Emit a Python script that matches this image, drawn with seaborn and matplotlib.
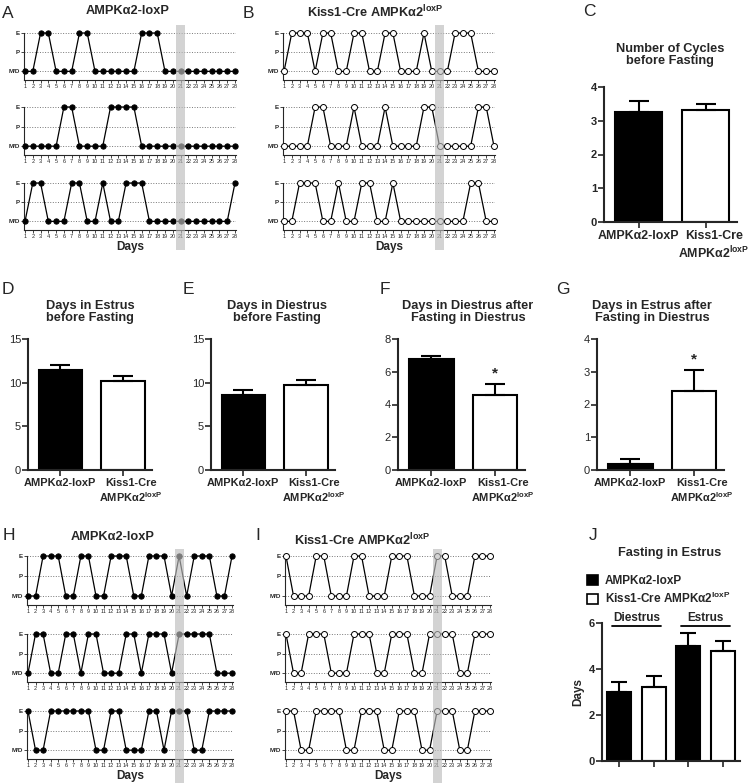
import matplotlib
matplotlib.use('Agg')
import matplotlib.pyplot as plt
from matplotlib.patches import Patch
from matplotlib.transforms import ScaledTranslation
import pandas as pd
import seaborn as sns

sns.set_style('ticks')
plt.rcParams['font.family'] = ['Liberation Sans', 'DejaVu Sans']
plt.rcParams['mathtext.fontset'] = 'custom'
plt.rcParams['mathtext.rm'] = 'Liberation Sans:bold'
plt.rcParams['mathtext.bf'] = 'Liberation Sans:bold'
plt.rcParams['mathtext.it'] = 'Liberation Sans:bold'

# ---- data ----
DAYS = list(range(1, 29))
STAGES = ['M/D', 'P', 'E']          # 0 = M/D, 1 = P, 2 = E
FAST_DAY = 21

# fasting in diestrus (A, B)
A_ROWS = [
    [0,0,2,2,0,0,0,2,2,0,0,0,0,0,0,2,2,2,0,0,0,0,0,0,0,0,0,0],
    [0,0,0,0,0,2,2,0,0,0,0,2,2,2,2,0,0,0,0,0,0,0,0,0,0,0,0,0],
    [0,2,2,0,0,0,2,2,0,0,2,0,0,2,2,2,0,0,0,0,0,0,0,0,0,0,0,2],
]
B_ROWS = [
    [0,2,2,2,0,2,2,0,0,2,2,0,0,2,2,0,0,0,2,0,0,0,2,2,2,0,0,0],
    [0,0,0,0,2,2,0,0,0,2,0,0,0,2,0,0,0,0,2,2,0,0,0,0,0,2,2,0],
    [0,0,2,2,2,0,0,2,0,0,2,2,0,0,2,0,0,0,0,0,0,0,0,0,2,2,0,0],
]
# fasting in estrus (H, I)
H_ROWS = [
    [0,0,2,2,2,0,0,2,2,0,0,2,2,2,0,0,2,2,2,0,2,0,2,2,2,0,0,2],
    [0,2,2,0,0,2,2,0,2,2,0,0,0,2,2,0,2,2,2,0,2,2,2,2,2,0,0,0],
    [2,0,0,2,2,2,2,2,2,0,0,2,2,0,0,0,2,2,0,2,2,2,0,0,2,2,2,2],
]
I_ROWS = [
    [2,0,0,0,2,2,0,0,0,2,2,0,0,0,2,2,2,0,0,0,2,2,0,0,0,2,2,2],
    [2,0,0,2,2,2,0,0,0,2,2,2,0,0,2,2,2,0,0,2,2,2,2,0,0,2,2,2],
    [2,2,0,0,2,2,2,2,0,0,2,2,2,0,0,2,2,2,0,0,2,2,2,0,0,2,2,2],
]

WT = 'AMPKα2-loxP'
KO = 'Kiss1-Cre AMPKα2$^{\\mathbf{loxP}}$'
WT_TICK = 'AMPKα2-loxP'
KO_TICK = 'Kiss1-Cre\nAMPKα2$^{\\mathbf{loxP}}$'

CYCLES_MEAN = [3.25, 3.33]
CYCLES_SEM = [0.35, 0.18]
EST_BEFORE_MEAN = [11.4, 10.2]
EST_BEFORE_SEM = [0.65, 0.55]
DI_BEFORE_MEAN = [8.55, 9.75]
DI_BEFORE_SEM = [0.6, 0.6]
DI_AFTER_MEAN = [6.8, 4.6]
DI_AFTER_SEM = [0.18, 0.65]
EST_AFTER_MEAN = [0.17, 2.42]
EST_AFTER_SEM = [0.17, 0.62]

J_PHASES = ['Diestrus', 'Estrus']
J_WT_MEAN = [3.0, 5.0]
J_WT_SEM = [0.45, 0.57]
J_KO_MEAN = [3.22, 4.78]
J_KO_SEM = [0.48, 0.45]

# ---- figure ----
W, H = 750, 783
fig = plt.figure(figsize=(W / 100, H / 100), dpi=100)


def add_ax(x0, y0, x1, y1):
    return fig.add_axes([x0 / W, 1 - y1 / H, (x1 - x0) / W, (y1 - y0) / H])


def ftext(x, y, s, **kw):
    fig.text(x / W, 1 - y / H, s, **kw)


def cycle_panel(rows, x0, x1, tops, bottoms, filled, band):
    xlim = (0.87, 28.13)
    for i, (row, t, b) in enumerate(zip(rows, tops, bottoms)):
        ax = add_ax(x0, t, x1, b)
        sns.lineplot(x=DAYS, y=row, ax=ax, color='black', lw=0.9,
                     marker='o', markersize=3.8 if filled else 4.3,
                     markerfacecolor='black' if filled else 'white',
                     markeredgecolor='black', markeredgewidth=0.7,
                     clip_on=False, zorder=3)
        ax.set_xlim(*xlim)
        ax.set_ylim(-0.45, 2)
        ax.set_yticks([0, 1, 2], STAGES)
        ax.set_xticks(DAYS, [str(d) for d in DAYS])
        ax.tick_params(axis='x', labelsize=4, length=2, width=0.6, pad=1)
        ax.tick_params(axis='y', labelsize=4.5, length=2, width=0.6, pad=1)
        for lab in ax.get_yticklabels():
            lab.set_fontweight('bold')
        ax.yaxis.grid(True, ls=':', lw=0.7, color='#777777')
        sns.despine(ax=ax)
        for s in ('left', 'bottom'):
            ax.spines[s].set_linewidth(0.8)
        ax.set_xlabel('')
        ax.set_ylabel('')
        if i == len(rows) - 1:
            ax.set_xlabel('Days', fontsize=8.5, fontweight='bold', labelpad=1)
    bax = add_ax(x0, band[0], x1, band[1])
    bax.set_xlim(*xlim)
    bax.axvspan(FAST_DAY - 0.6, FAST_DAY + 0.6, color='#bcbcbc', alpha=0.65, lw=0)
    bax.axis('off')


def bar_panel(x0, y0, x1, y1, means, sems, yticks, star=False, bold_y=True, fs=8.9):
    ax = add_ax(x0, y0, x1, y1)
    keys = [WT, KO]
    sns.barplot(x=keys, y=means, hue=keys, palette=['black', 'white'],
                edgecolor='black', linewidth=1.5, width=0.7, saturation=1,
                legend=False, ax=ax)
    ax.errorbar([0, 1], means, yerr=[[0, 0], sems], fmt='none', ecolor='black',
                elinewidth=1.5, capsize=7, capthick=1.5)
    ax.set_xlim(-0.52, 1.47)
    ax.set_ylim(yticks[0], yticks[-1])
    ax.set_yticks(yticks)
    ax.set_xticks([0, 1], [WT_TICK, KO_TICK])
    ax.tick_params(axis='x', labelsize=fs, length=4, width=1.2, pad=2)
    ax.tick_params(axis='y', labelsize=8, length=4, width=1.2, pad=1)
    labs = ax.get_xticklabels()
    for lab in labs:
        lab.set_fontweight('bold')
    labs[1].set_transform(labs[1].get_transform() +
                          ScaledTranslation(0.08, 0, fig.dpi_scale_trans))
    if bold_y:
        for lab in ax.get_yticklabels():
            lab.set_fontweight('bold')
    sns.despine(ax=ax)
    for s in ('left', 'bottom'):
        ax.spines[s].set_linewidth(1.5)
    if star:
        ax.text(1, means[1] + sems[1] + (yticks[-1] - yticks[0]) * 0.03, '*',
                ha='center', va='bottom', fontsize=11, fontweight='bold')
    return ax


lbl = dict(fontsize=12.5, va='center', ha='left')
ttl = dict(fontsize=9.2, fontweight='bold', ha='center', va='center')

# A
ftext(2, 13, 'A', **lbl)
ftext(128, 11, WT, **ttl)
cycle_panel(A_ROWS, 24, 236, [33, 107, 183], [80, 155, 230], True, (25, 250))
# B
ftext(243, 13, 'B', **lbl)
ftext(375, 12, KO, **ttl)
cycle_panel(B_ROWS, 283, 495, [33, 107, 183], [80, 155, 230], False, (25, 250))
# C
ftext(583, 11, 'C', **lbl)
ftext(670, 55, 'Number of Cycles\nbefore Fasting', linespacing=1.1, **ttl)
bar_panel(604, 87, 737, 222, CYCLES_MEAN, CYCLES_SEM, [0, 1, 2, 3, 4])

# D-G
ftext(2, 290, 'D', **lbl)
ftext(90, 312, 'Days in Estrus\nbefore Fasting', linespacing=1.1, **ttl)
bar_panel(28, 339, 152, 470, EST_BEFORE_MEAN, EST_BEFORE_SEM, [0, 5, 10, 15],
          bold_y=False, fs=7.9)
ftext(183, 290, 'E', **lbl)
ftext(277, 312, 'Days in Diestrus\nbefore Fasting', linespacing=1.1, **ttl)
bar_panel(211, 339, 335, 470, DI_BEFORE_MEAN, DI_BEFORE_SEM, [0, 5, 10, 15],
          bold_y=False, fs=7.9)
ftext(380, 290, 'F', **lbl)
ftext(468, 312, 'Days in Diestrus after\nFasting in Diestrus', linespacing=1.1, **ttl)
bar_panel(398, 339, 525, 470, DI_AFTER_MEAN, DI_AFTER_SEM, [0, 2, 4, 6, 8],
          star=True, bold_y=False, fs=7.9)
ftext(556, 290, 'G', **lbl)
ftext(652, 312, 'Days in Estrus after\nFasting in Diestrus', linespacing=1.1, **ttl)
bar_panel(597, 339, 724, 470, EST_AFTER_MEAN, EST_AFTER_SEM, [0, 1, 2, 3, 4],
          star=True, bold_y=False, fs=7.9)

# H
ftext(3, 535, 'H', **lbl)
ftext(113, 537, WT, **ttl)
cycle_panel(H_ROWS, 27, 233, [556, 634, 711], [605, 682, 759], True, (549, 783))
# I
ftext(255, 535, 'I', **lbl)
ftext(362, 540, KO, **ttl)
cycle_panel(I_ROWS, 285, 491, [556, 634, 711], [605, 682, 759], False, (549, 783))

# J
ftext(589, 535, 'J', **lbl)
ftext(670, 553, 'Fasting in Estrus', **ttl)
df_j = pd.DataFrame({
    'slot': [f'{p}-{g}' for p in J_PHASES for g in ('wt', 'ko')],
    'genotype': [g for _ in J_PHASES for g in (WT, KO)],
    'days': [v for pair in zip(J_WT_MEAN, J_KO_MEAN) for v in pair],
    'sem': [v for pair in zip(J_WT_SEM, J_KO_SEM) for v in pair],
})
axj = add_ax(602, 623, 740, 761)
sns.barplot(data=df_j, x='slot', y='days', hue='genotype', dodge=False,
            palette=['black', 'white'], edgecolor='black', linewidth=1.5,
            width=0.7, saturation=1, legend=False, ax=axj)
axj.errorbar(range(len(df_j)), df_j['days'], yerr=[[0] * len(df_j), df_j['sem']],
             fmt='none', ecolor='black', elinewidth=1.5, capsize=6, capthick=1.5)
axj.set_xlim(-0.5, 3.5)
axj.set_ylim(0, 6)
axj.set_yticks([0, 2, 4, 6])
axj.set_xticks(range(len(df_j)), [''] * len(df_j))
axj.set_xlabel('')
axj.set_ylabel('Days', fontsize=8.5, fontweight='bold', labelpad=3)
axj.tick_params(axis='x', length=4, width=1.2)
axj.tick_params(axis='y', labelsize=8, length=4, width=1.2, pad=1)
for lab in axj.get_yticklabels():
    lab.set_fontweight('bold')
sns.despine(ax=axj)
for s in ('left', 'bottom'):
    axj.spines[s].set_linewidth(1.5)
for k, phase in enumerate(J_PHASES):
    a, b = 2 * k - 0.2, 2 * k + 1.2
    axj.plot([a, b], [5.85, 5.85], color='black', lw=1.3, clip_on=False)
    axj.text((a + b) / 2, 5.95, phase, ha='center', va='bottom',
             fontsize=8.5, fontweight='bold')
handles = [Patch(facecolor='black', edgecolor='black', lw=1.2, label=WT),
           Patch(facecolor='white', edgecolor='black', lw=1.2, label=KO)]
leg = axj.legend(handles=handles, loc='lower left', bbox_to_anchor=(-0.15, 1.08),
                 frameon=False, borderpad=0, handlelength=0.9, handleheight=0.9,
                 handletextpad=0.6, labelspacing=0.35,
                 prop={'size': 8.5, 'weight': 'bold'})

fig.savefig('out.png', dpi=100)
